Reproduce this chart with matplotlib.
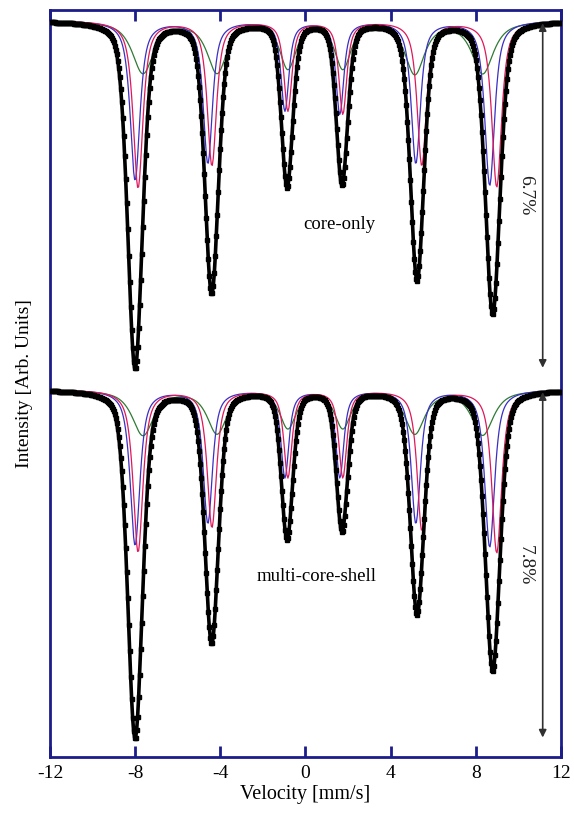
import numpy as np
import matplotlib
matplotlib.use('Agg')
from matplotlib import pyplot as plt

plt.rcParams['font.family'] = ['Liberation Serif', 'DejaVu Serif']
plt.rcParams['axes.unicode_minus'] = False

# velocity channels of the spectrometer (mm/s)
velocity = np.linspace(-11.95, 11.95, 512)

# sextet line positions (mm/s)
pos_total = [-8.0, -4.4, -0.86, 1.72, 5.25, 8.8]
pos_blue = [-8.0, -4.58, -0.96, 1.62, 5.19, 8.66]
pos_red = [-7.86, -4.39, -0.82, 1.76, 5.47, 8.99]
pos_green = [-7.63, -4.15, -0.82, 1.76, 5.14, 8.33]

# line widths (FWHM, mm/s)
fwhm_total = [0.82, 0.76, 0.64, 0.64, 0.76, 0.82]
fwhm_blue = [0.55, 0.52, 0.45, 0.45, 0.52, 0.55]
fwhm_red = [0.55, 0.52, 0.45, 0.45, 0.52, 0.55]
fwhm_green = [1.2, 1.1, 0.9, 0.9, 1.1, 1.2]

# lorentzian fraction of the line shape
eta_total = 0.35
eta_sub = 0.8

# absorption depths (%) -- core-only sample
core_total = [6.7, 5.23, 3.17, 3.13, 4.98, 5.64]
core_blue = [3.07, 2.74, 1.72, 1.78, 2.74, 3.17]
core_red = [3.22, 2.78, 1.72, 1.78, 2.78, 3.2]
core_green = [1.0, 0.98, 0.89, 0.89, 1.0, 1.0]

# absorption depths (%) -- multi-core-shell sample
shell_total = [7.8, 5.65, 3.32, 3.14, 5.0, 6.28]
shell_blue = [3.48, 2.98, 1.95, 1.95, 2.98, 3.52]
shell_red = [3.63, 3.07, 1.95, 1.95, 3.14, 3.65]
shell_green = [1.01, 0.96, 0.83, 0.83, 0.96, 1.0]

effect_labels = ['6.7%', '7.8%']
sample_labels = ['core-only', 'multi-core-shell']


def sextet(v, pos, depth, fwhm, eta):
    out = np.zeros_like(v)
    for p, d, w in zip(pos, depth, fwhm):
        x = (v - p) / (w / 2)
        lor = 1 / (1 + x ** 2)
        gau = np.exp(-np.log(2) * x ** 2)
        out += d * (eta * lor + (1 - eta) * gau)
    return out


fig = plt.figure(figsize=(5.74, 8.13), dpi=100)
ax = fig.add_axes([0.087, 0.069, 0.89, 0.919])

navy = '#1c1c8a'
cols = {'blue': '#3a2fc4', 'red': '#e0185a', 'green': '#2f7a35'}

spectra = [
    (0.0, 1.0, core_total, core_blue, core_red, core_green),
    (-7.12, 0.861, shell_total, shell_blue, shell_red, shell_green),
]

for k, (off, sc, tot, b, r, g) in enumerate(spectra):
    for name, pos, dep, w in [('green', pos_green, g, fwhm_green),
                              ('blue', pos_blue, b, fwhm_blue),
                              ('red', pos_red, r, fwhm_red)]:
        ax.plot(velocity, off - sc * sextet(velocity, pos, dep, w, eta_sub),
                color=cols[name], lw=0.9, zorder=2)
    y = off - sc * sextet(velocity, pos_total, tot, fwhm_total, eta_total)
    ax.plot(velocity, y, color='black', lw=2.6, zorder=3)
    ax.plot(velocity, y, 's', color='black', ms=3.0, zorder=3)

    ytop = off - 0.05
    ybot = off - sc * tot[0]
    ax.annotate('', xy=(11.15, ybot), xytext=(11.15, ytop),
                arrowprops=dict(arrowstyle='<|-|>', color='#303030', lw=1.2,
                                mutation_scale=11, shrinkA=0, shrinkB=0),
                zorder=4)
    ax.text(10.35, (ytop + ybot) / 2, effect_labels[k], rotation=-90,
            ha='center', va='center', fontsize=14, color='#202020')

ax.text(1.6, -3.93, sample_labels[0], ha='center', va='center', fontsize=13.5)
ax.text(0.55, -10.73, sample_labels[1], ha='center', va='center', fontsize=13.5)

ax.set_xlim(-12, 12)
ax.set_ylim(-14.21, 0.21)
ax.set_xticks([-12, -8, -4, 0, 4, 8, 12])
ax.set_yticks([])
ax.tick_params(axis='x', direction='in', length=8, width=2, color=navy,
               top=True, labelsize=14, pad=6)
for s in ax.spines.values():
    s.set_color(navy)
    s.set_linewidth(2)
ax.set_xlabel('Velocity [mm/s]', fontsize=14.5, labelpad=2)
ax.set_ylabel('Intensity [Arb. Units]', fontsize=14, labelpad=12)

fig.savefig('out.png', dpi=100)
